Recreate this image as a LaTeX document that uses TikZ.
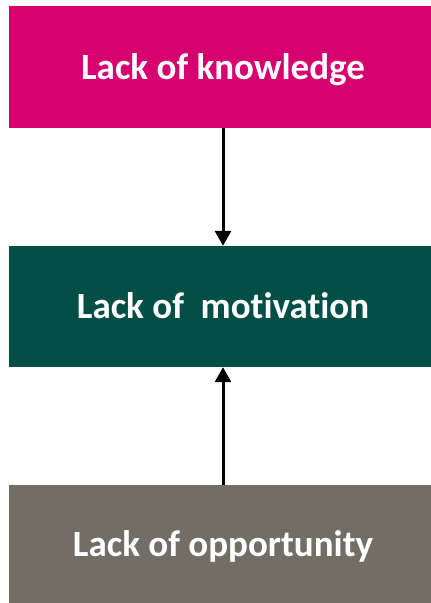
\documentclass[tikz,border=0pt]{standalone}
\usepackage{fontspec}
\setmainfont{Carlito}[Ligatures=NoCommon]
\usepackage{xcolor}
\usepackage{tikz}
\usetikzlibrary{arrows.meta}
\definecolor{knowpink}{RGB}{214,0,110}
\definecolor{motivgreen}{RGB}{3,79,69}
\definecolor{opporgray}{RGB}{115,110,101}

\begin{document}
\begin{tikzpicture}[x=1pt, y=-1pt,
  box/.style={rectangle, draw=none, minimum width=428pt, inner sep=0pt,
              text height=24pt, text depth=0pt,
              text=white, font=\fontsize{37}{40}\selectfont\bfseries},
  arr/.style={-{Triangle[length=15pt, width=16pt]}, line width=3pt, black}]
\useasboundingbox (0,0) rectangle (431,603);
% Three boxes, top to bottom (right edges run past the page)
\node[box, fill=knowpink, minimum height=122pt] (know) at (223,67) {Lack of knowledge};
\node[box, fill=motivgreen, minimum height=121pt] (motiv) at (223,306.5) {Lack of\ \ motivation};
\node[box, fill=opporgray, minimum height=119pt] (oppor) at (223,544.5) {Lack of opportunity};
% Arrows into the middle box
\draw[arr] (know) -- (motiv);
\draw[arr] (oppor) -- (motiv);
\end{tikzpicture}
\end{document}
